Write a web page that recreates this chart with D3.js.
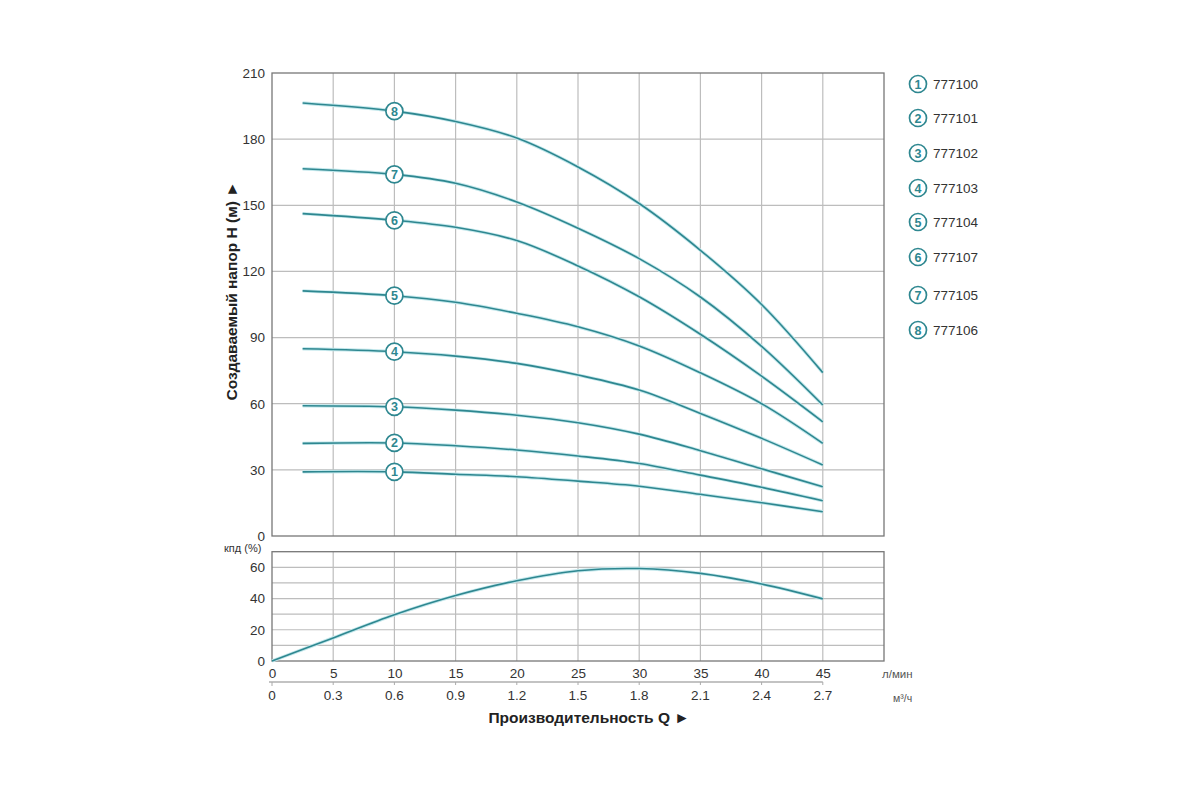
<!DOCTYPE html>
<html><head><meta charset="utf-8">
<script src="https://cdn.jsdelivr.net/npm/d3@7"></script>
<style>body{margin:0;background:#fff}svg{display:block}text{font-family:"Liberation Sans",Arial,sans-serif}</style>
</head><body>
<svg id="c" width="1200" height="800"></svg>
<script>
// ---- data ----
const flowPts = [2.5, 10, 15, 20, 25, 30, 35, 40, 45];           // л/мин
const h777100 = [29.1, 29.1, 28.0, 26.9, 24.9, 22.6, 18.9, 15.1, 11.0];
const h777101 = [42.0, 42.2, 40.9, 39.0, 36.3, 32.9, 27.6, 22.1, 16.0];
const h777102 = [59.1, 58.6, 57.1, 54.8, 51.4, 46.2, 38.7, 30.5, 22.3];
const h777103 = [84.9, 83.6, 81.6, 78.3, 73.0, 66.2, 55.6, 44.3, 32.2];
const h777104 = [111.2, 109.0, 106.0, 101.0, 94.9, 86.2, 74.0, 60.0, 42.0];
const h777107 = [146.2, 143.2, 140.0, 134.0, 122.5, 108.5, 91.5, 72.5, 51.8];
const h777105 = [166.6, 164.0, 160.0, 151.5, 139.6, 125.8, 108.4, 86.0, 59.4];
const h777106 = [196.4, 192.7, 188.0, 180.5, 167.4, 150.8, 129.6, 105.0, 74.1];
const models = ["777100","777101","777102","777103","777104","777107","777105","777106"];
const heads = [h777100,h777101,h777102,h777103,h777104,h777107,h777105,h777106];
const effFlow = [0, 5, 10, 15, 20, 25, 30, 35, 40, 45];
const effVals = [0, 14.8, 29.6, 41.9, 51.4, 57.8, 59.2, 56.1, 49.3, 39.8];
const qTicks = [0,5,10,15,20,25,30,35,40,45];
const m3Ticks = ["0","0.3","0.6","0.9","1.2","1.5","1.8","2.1","2.4","2.7"];
const hTicks = [0,30,60,90,120,150,180,210];
const effTicks = [0,20,40,60];
const labelFlow = 10;

// ---- layout ----
const svg = d3.select("#c");
const teal = "#2e8790";
const x = d3.scaleLinear().domain([0,50]).range([272,884]);
const y = d3.scaleLinear().domain([0,210]).range([536,73]);
const ye = d3.scaleLinear().domain([0,70]).range([661,551.7]);
const grid = "#bdbdbd", frame="#777", txt="#333";

function panel(ys, hgrid){
  const g = svg.append("g");
  qTicks.filter(d=>d>0).forEach(d=>g.append("line").attr("x1",x(d)).attr("x2",x(d))
    .attr("y1",ys.range()[0]).attr("y2",ys.range()[1]).attr("stroke",grid).attr("stroke-width",1.2));
  hgrid.forEach(d=>g.append("line").attr("x1",x(0)).attr("x2",x(50))
    .attr("y1",ys(d)).attr("y2",ys(d)).attr("stroke",grid).attr("stroke-width",1.2));
  g.append("rect").attr("x",x(0)).attr("y",ys.range()[1]).attr("width",x(50)-x(0))
    .attr("height",ys.range()[0]-ys.range()[1]).attr("fill","none").attr("stroke",frame).attr("stroke-width",1.3);
}
panel(y, d3.range(30,210,30));
panel(ye, d3.range(10,70,10));

const styleTicks = g=>{g.select(".domain").remove();g.selectAll("text").attr("font-size",13.5).attr("fill",txt).style("font-family","Liberation Sans, Arial");};
svg.append("g").attr("transform",`translate(${x(0)},0)`).call(d3.axisLeft(y).tickValues(hTicks).tickSize(0).tickPadding(7)).call(styleTicks);
svg.append("g").attr("transform",`translate(${x(0)},0)`).call(d3.axisLeft(ye).tickValues(effTicks).tickSize(0).tickPadding(7)).call(styleTicks);
svg.append("g").attr("transform",`translate(0,662)`).call(d3.axisBottom(x).tickValues(qTicks).tickSize(0).tickPadding(6)).call(styleTicks);

// second axis (м3/ч)
const x2 = d3.scalePoint().domain(m3Ticks).range([x(0),x(45)]);
const g2 = svg.append("g").attr("transform","translate(0,682)");
g2.append("line").attr("x1",x(0)-3).attr("x2",x(45)).attr("y1",0).attr("y2",0).attr("stroke","#888").attr("stroke-width",1.2);
m3Ticks.forEach(t=>{
  g2.append("line").attr("x1",x2(t)).attr("x2",x2(t)).attr("y1",0).attr("y2",t==="0"?4:3).attr("stroke","#aaa");
  g2.append("text").attr("x",x2(t)).attr("y",18).attr("text-anchor","middle").attr("font-size",13.5).attr("fill",txt).text(t);
});

// unit labels
svg.append("text").attr("x",882).attr("y",678).attr("font-size",11.5).attr("fill","#555").text("л/мин");
svg.append("text").attr("x",893).attr("y",702).attr("font-size",10.5).attr("fill","#555").text("м³/ч");
svg.append("text").attr("x",224).attr("y",552).attr("font-size",11).attr("fill",txt).text("кпд (%)");

// axis titles
svg.append("text").attr("x",589).attr("y",723).attr("text-anchor","middle").attr("font-size",15.5)
  .attr("font-weight","bold").attr("fill","#222").text("Производительность Q ►");
svg.append("text").attr("transform","translate(237,291) rotate(-90)").attr("text-anchor","middle")
  .attr("font-size",15.5).attr("font-weight","bold").attr("fill","#222").text("Создаваемый напор H (м) ►");

// curves
const line = d3.line().x(d=>x(d[0])).y(d=>y(d[1])).curve(d3.curveCatmullRom.alpha(0.5));
heads.forEach((h,i)=>{
  const pts = flowPts.map((f,j)=>[f,h[j]]);
  svg.append("path").attr("d",line(pts)).attr("fill","none").attr("stroke","#c4e8ec").attr("stroke-width",3.4);
  svg.append("path").attr("d",line(pts)).attr("fill","none").attr("stroke",teal).attr("stroke-width",1.6);
});
const eLine = d3.line().x(d=>x(d[0])).y(d=>ye(d[1])).curve(d3.curveCatmullRom.alpha(0.5));
const ePts = effFlow.map((f,j)=>[f,effVals[j]]);
svg.append("path").attr("d",eLine(ePts)).attr("fill","none").attr("stroke","#c4e8ec").attr("stroke-width",3.4);
svg.append("path").attr("d",eLine(ePts)).attr("fill","none").attr("stroke",teal).attr("stroke-width",1.6);

// curve number badges
function badge(cx,cy,n){
  svg.append("circle").attr("cx",cx).attr("cy",cy).attr("r",8.5).attr("fill","#fff").attr("stroke",teal).attr("stroke-width",1.7);
  svg.append("text").attr("x",cx).attr("y",cy+4.5).attr("text-anchor","middle").attr("font-size",12.5)
    .attr("font-weight","bold").attr("fill",teal).text(n);
}
heads.forEach((h,i)=>badge(x(labelFlow), y(h[flowPts.indexOf(labelFlow)]), i+1));

// legend
const legY = [84,118,153,188,222,257,295,330];
models.forEach((m,i)=>{
  badge(918, legY[i], i+1);
  svg.append("text").attr("x",933).attr("y",legY[i]+5).attr("font-size",13.5).attr("fill",txt).text(m);
});
</script>
</body></html>
